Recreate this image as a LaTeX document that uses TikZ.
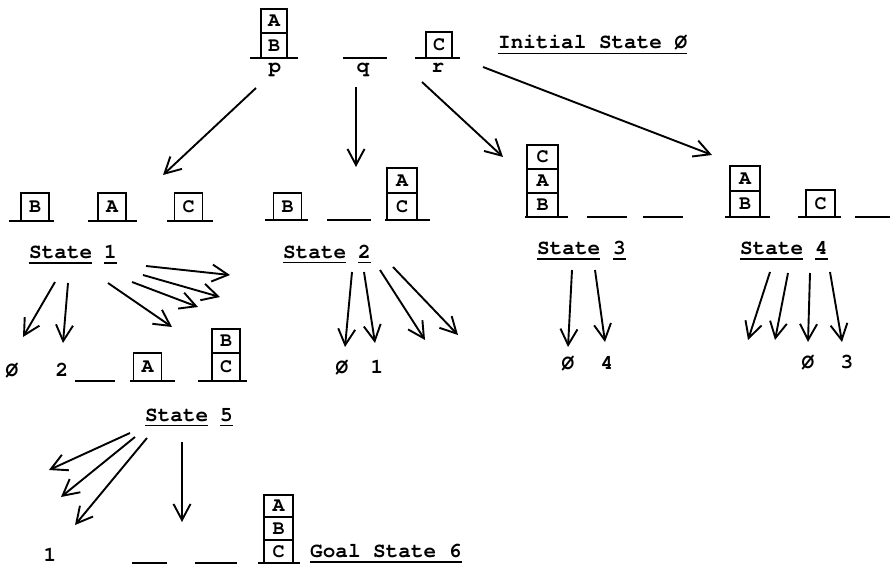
\documentclass[tikz,border=0pt]{standalone}
\usepackage{fontspec}
\newfontfamily\tw[Extension=.otf]{texgyrecursor-bold}
\usetikzlibrary{arrows.meta}

\tikzset{
  blk/.style={draw, line width=1.8pt, minimum width=28pt, minimum height=25pt,
              inner sep=0pt, font=\tw\fontsize{20}{20}\selectfont},
  base/.style={line width=2pt},
  txt/.style={inner sep=0pt, anchor=base west, font=\tw\fontsize{21}{21}\selectfont},
  smalltxt/.style={inner sep=0pt, anchor=base, font=\tw\fontsize{21}{21}\selectfont},
  ul/.style={line width=1.4pt},
  arr/.style={line width=1.9pt, -{Straight Barb[length=16pt,width=17pt,line width=1.9pt]}},
}
% underline a text node just below its baseline
\newcommand\ulnode[1]{\draw[ul] ([yshift=-4.5pt]#1.base west) -- ([yshift=-4.5pt]#1.base east);}

\begin{document}
\begin{tikzpicture}[x=1pt,y=-1pt]
\useasboundingbox (0,0) rectangle (893,564);

% ---------- initial state 0 ----------
\node[blk, minimum width=26pt, minimum height=24pt] (iA) at (274,21) {A};
\node[blk, minimum width=26pt, minimum height=25pt] (iB) at (274,45.5) {B};
\draw[base] (250,58) -- (298,58);
\node[smalltxt] (lp) at (275,73) {p};
\draw[base] (343,58) -- (387,58);
\node[smalltxt] (lq) at (363,73) {q};
\node[blk, minimum width=26pt, minimum height=26pt] (iC) at (439,45) {C};
\draw[base] (415,58) -- (460,58);
\node[smalltxt] (lr) at (438,73) {r};
\node[txt] (t0) at (498,49) {Initial State Ø};
\ulnode{t0}

\coordinate (p0) at (256,88);   \coordinate (e01) at (163,175);
\coordinate (q0) at (356,87);   \coordinate (e02) at (356,167);
\coordinate (r0) at (422,82);   \coordinate (e03) at (503,157);
\coordinate (r0b) at (483,67);  \coordinate (e04) at (712,155);
\draw[arr] (p0) -- (e01);
\draw[arr] (q0) -- (e02);
\draw[arr] (r0) -- (e03);
\draw[arr] (r0b) -- (e04);

% ---------- state 1 ----------
\node[blk, minimum height=28pt] (aB) at (35,207) {B};
\draw[base] (9,221) -- (54,221);
\node[blk, minimum height=28pt] (aA) at (112,207) {A};
\draw[base] (88,221) -- (137,221);
\node[blk, minimum height=28pt] (aC) at (188.5,207) {C};
\draw[base] (167,221) -- (213,221);
\node[txt] (s1) at (29,258.5) {State};
\node[txt] (n1) at (104,258.5) {1};
\ulnode{s1} \ulnode{n1}

\coordinate (s1a) at (55,282);  \coordinate (s1ae) at (23,337);
\coordinate (s1b) at (68,283);  \coordinate (s1be) at (63,343);
\coordinate (s1c) at (108,283); \coordinate (s1ce) at (172,327);
\coordinate (s1d) at (132,282); \coordinate (s1de) at (198,307);
\coordinate (s1e) at (143,275); \coordinate (s1ee) at (220,297);
\coordinate (s1f) at (146,266); \coordinate (s1fe) at (230,275);
\draw[arr] (s1a) -- (s1ae);
\draw[arr] (s1b) -- (s1be);
\draw[arr] (s1c) -- (s1ce);
\draw[arr] (s1d) -- (s1de);
\draw[arr] (s1e) -- (s1ee);
\draw[arr] (s1f) -- (s1fe);
\node[smalltxt] (r1a) at (12,376) {Ø};
\node[smalltxt] (r1b) at (62,376) {2};

% ---------- state 2 ----------
\node[blk, minimum height=27pt] (bB) at (287.5,206.5) {B};
\draw[base] (265,220) -- (308,220);
\draw[base] (327,220) -- (371,220);
\node[blk, minimum width=30pt, minimum height=25pt] (bA) at (402,180.5) {A};
\node[blk, minimum width=30pt, minimum height=27pt] (bC) at (402,206.5) {C};
\draw[base] (385,220) -- (430,220);
\node[txt] (s2) at (283,258) {State};
\node[txt] (n2) at (358,258) {2};
\ulnode{s2} \ulnode{n2}

\coordinate (s2a) at (352,272); \coordinate (s2ae) at (345,347);
\coordinate (s2b) at (364,272); \coordinate (s2be) at (375,343);
\coordinate (s2c) at (380,270); \coordinate (s2ce) at (425,340);
\coordinate (s2d) at (393,267); \coordinate (s2de) at (458,335);
\draw[arr] (s2a) -- (s2ae);
\draw[arr] (s2b) -- (s2be);
\draw[arr] (s2c) -- (s2ce);
\draw[arr] (s2d) -- (s2de);
\node[smalltxt] (r2a) at (342,373) {Ø};
\node[smalltxt] (r2b) at (377,373) {1};

% ---------- state 3 ----------
\node[blk, minimum width=31pt, minimum height=24pt] (cC) at (542.5,157) {C};
\node[blk, minimum width=31pt, minimum height=24pt] (cA) at (542.5,181) {A};
\node[blk, minimum width=31pt, minimum height=24pt] (cB) at (542.5,205) {B};
\draw[base] (525,217) -- (568,217);
\draw[base] (587,217) -- (627,217);
\draw[base] (643,217) -- (683,217);
\node[txt] (s3) at (537,254.5) {State};
\node[txt] (n3) at (613,254.5) {3};
\ulnode{s3} \ulnode{n3}

\coordinate (s3a) at (572,270); \coordinate (s3ae) at (568,347);
\coordinate (s3b) at (595,270); \coordinate (s3be) at (605,342);
\draw[arr] (s3a) -- (s3ae);
\draw[arr] (s3b) -- (s3be);
\node[smalltxt] (r3a) at (568,369) {Ø};
\node[smalltxt] (r3b) at (607,369) {4};

% ---------- state 4 ----------
\node[blk, minimum width=30pt, minimum height=25pt] (dA) at (745,178.5) {A};
\node[blk, minimum width=30pt, minimum height=26pt] (dB) at (745,204) {B};
\draw[base] (725,217) -- (770,217);
\node[blk, minimum width=29pt, minimum height=27pt] (dC) at (820.5,203.5) {C};
\draw[base] (798,217) -- (841,217);
\draw[base] (855,217) -- (890,217);
\node[txt] (s4) at (740,254.5) {State};
\node[txt] (n4) at (815,254.5) {4};
\ulnode{s4} \ulnode{n4}

\coordinate (s4a) at (770,272); \coordinate (s4ae) at (748,340);
\coordinate (s4b) at (788,273); \coordinate (s4be) at (775,340);
\coordinate (s4c) at (810,273); \coordinate (s4ce) at (808,342);
\coordinate (s4d) at (830,272); \coordinate (s4de) at (842,342);
\draw[arr] (s4a) -- (s4ae);
\draw[arr] (s4b) -- (s4be);
\draw[arr] (s4c) -- (s4ce);
\draw[arr] (s4d) -- (s4de);
\node[smalltxt] (r4a) at (808,368) {Ø};
\node[smalltxt] (r4b) at (847,368) {3};

% ---------- state 5 ----------
\draw[base] (75,381) -- (115,381);
\node[blk, minimum height=28pt] (eA) at (147.5,367) {A};
\draw[base] (130,381) -- (175,381);
\node[blk, minimum height=24pt] (eB) at (226,341) {B};
\node[blk, minimum height=28pt] (eC) at (226,367) {C};
\draw[base] (198,381) -- (247,381);
\node[txt] (s5) at (145,421) {State};
\node[txt] (n5) at (220,421) {5};
\ulnode{s5} \ulnode{n5}

\coordinate (s5a) at (130,433); \coordinate (s5ae) at (49,470);
\coordinate (s5b) at (135,437); \coordinate (s5be) at (61,497);
\coordinate (s5c) at (147,438); \coordinate (s5ce) at (75,525);
\coordinate (s5d) at (182,442); \coordinate (s5de) at (182,522);
\draw[arr] (s5a) -- (s5ae);
\draw[arr] (s5b) -- (s5be);
\draw[arr] (s5c) -- (s5ce);
\draw[arr] (s5d) -- (s5de);
\node[smalltxt] (r5a) at (50,561) {1};

% ---------- goal state 6 ----------
\draw[base] (132,563) -- (167,563);
\draw[base] (195,563) -- (237,563);
\node[blk, minimum width=29pt, minimum height=22pt] (gA) at (278.5,506) {A};
\node[blk, minimum width=29pt, minimum height=23pt] (gB) at (278.5,528.5) {B};
\node[blk, minimum width=29pt, minimum height=23pt] (gC) at (278.5,551.5) {C};
\draw[base] (258,563) -- (300,563);
\node[txt] (t6) at (310,557.5) {Goal State 6};
\ulnode{t6}
\end{tikzpicture}
\end{document}
